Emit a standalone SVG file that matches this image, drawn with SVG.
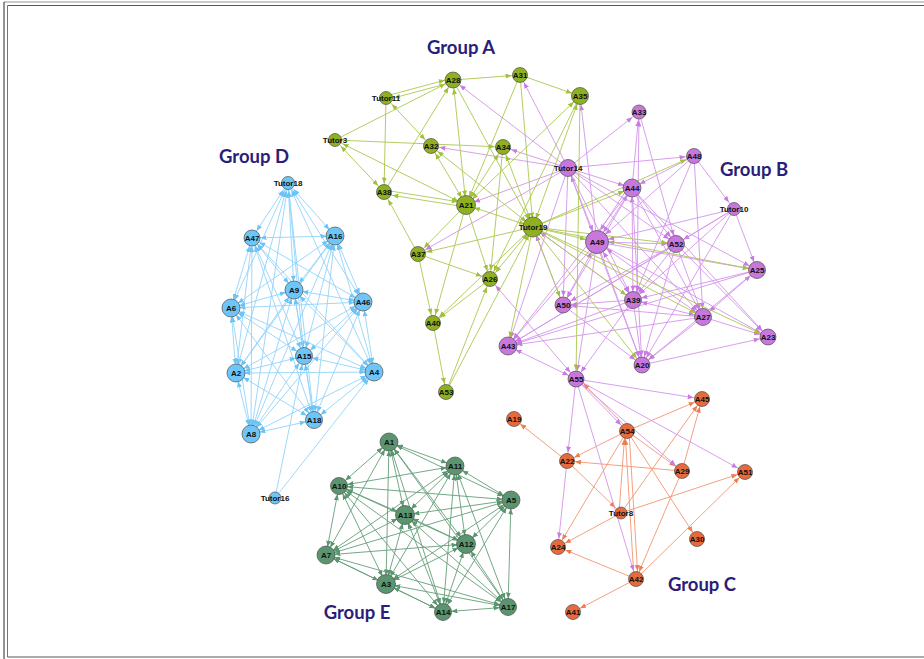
<svg xmlns="http://www.w3.org/2000/svg" width="924" height="659" viewBox="0 0 924 659">
<defs>
<marker id="mA" viewBox="0 0 6 5" markerWidth="6" markerHeight="5" refX="14.5" refY="2.5" orient="auto-start-reverse" markerUnits="userSpaceOnUse"><path d="M0,0L6,2.5L0,5z" fill="#a2c03e"/></marker>
<marker id="mAL" viewBox="0 0 6 5" markerWidth="6" markerHeight="5" refX="17.5" refY="2.5" orient="auto-start-reverse" markerUnits="userSpaceOnUse"><path d="M0,0L6,2.5L0,5z" fill="#a2c03e"/></marker>
<marker id="mB" viewBox="0 0 6 5" markerWidth="6" markerHeight="5" refX="14.5" refY="2.5" orient="auto-start-reverse" markerUnits="userSpaceOnUse"><path d="M0,0L6,2.5L0,5z" fill="#c97be3"/></marker>
<marker id="mBL" viewBox="0 0 6 5" markerWidth="6" markerHeight="5" refX="17.5" refY="2.5" orient="auto-start-reverse" markerUnits="userSpaceOnUse"><path d="M0,0L6,2.5L0,5z" fill="#c97be3"/></marker>
<marker id="mC" viewBox="0 0 6 5" markerWidth="6" markerHeight="5" refX="14" refY="2.5" orient="auto-start-reverse" markerUnits="userSpaceOnUse"><path d="M0,0L6,2.5L0,5z" fill="#ef7d50"/></marker>
<marker id="mD" viewBox="0 0 6 5" markerWidth="6" markerHeight="5" refX="14.5" refY="2.5" orient="auto-start-reverse" markerUnits="userSpaceOnUse"><path d="M0,0L6,2.5L0,5z" fill="#6cc3f5"/></marker>
<marker id="mE" viewBox="0 0 6 5" markerWidth="6" markerHeight="5" refX="14.5" refY="2.5" orient="auto-start-reverse" markerUnits="userSpaceOnUse"><path d="M0,0L6,2.5L0,5z" fill="#5a9670"/></marker>
</defs>
<style>
line{stroke-width:0.9;fill:none}
.eA{stroke:#abc74f}
.eB{stroke:#d494ea}
.eC{stroke:#f39570}
.eD{stroke:#92d4fb}
.eE{stroke:#639e77}
.eA.u{marker-end:url(#mA)}.eA.b{marker-start:url(#mA);marker-end:url(#mA)}
.eB.u{marker-end:url(#mB)}.eB.b{marker-start:url(#mB);marker-end:url(#mB)}
.eC.u{marker-end:url(#mC)}.eC.b{marker-start:url(#mC);marker-end:url(#mC)}
.eD.u{marker-end:url(#mD)}.eD.b{marker-start:url(#mD);marker-end:url(#mD)}
.eE.u{marker-end:url(#mE)}.eE.b{marker-start:url(#mE);marker-end:url(#mE)}
.nd circle{stroke:#4d4d4d;stroke-width:0.7}
.nA circle{fill:#8fb01f}
.nB circle{fill:#c878dd}
.nC circle{fill:#e76a3c}
.nD circle{fill:#6ec6f8}
.nE circle{fill:#5a956f}
.nd text{font-family:"Liberation Sans",Arial,sans-serif;font-weight:bold;font-size:8px;fill:#111;text-anchor:middle}
.title{font-family:Lato,"Open Sans",sans-serif;font-weight:bold;font-size:18.5px;fill:#2b1d78;text-anchor:middle}
.fr{fill:none}
</style>
<rect width="924" height="659" fill="#fff"/>
<g id="frame">
<line class="fr" x1="4" y1="2" x2="924" y2="2" stroke="#888" stroke-width="1.5"/>
<line class="fr" x1="4" y1="2" x2="4" y2="659" stroke="#111" stroke-width="1.5"/>
<line class="fr" x1="7.5" y1="5.5" x2="924" y2="5.5" stroke="#444" stroke-width="1.5"/>
<line class="fr" x1="7.5" y1="5.5" x2="7.5" y2="657" stroke="#666" stroke-width="1"/>
<line class="fr" x1="7.5" y1="657" x2="924" y2="657" stroke="#444" stroke-width="1.5"/>
</g>
<g id="connectors">
<!-- Group D -->
<line class="eD b" x1="288" y1="183" x2="252" y2="238"/>
<line class="eD b" x1="288" y1="183" x2="335" y2="236"/>
<line class="eD b" x1="288" y1="183" x2="294" y2="290"/>
<line class="eD b" x1="288" y1="183" x2="231" y2="308"/>
<line class="eD b" x1="288" y1="183" x2="363" y2="302"/>
<line class="eD b" x1="288" y1="183" x2="304" y2="356"/>
<line class="eD b" x1="288" y1="183" x2="236" y2="373"/>
<line class="eD b" x1="288" y1="183" x2="374" y2="372"/>
<line class="eD b" x1="288" y1="183" x2="314" y2="420"/>
<line class="eD b" x1="288" y1="183" x2="251" y2="434"/>
<line class="eD b" x1="252" y1="238" x2="335" y2="236"/>
<line class="eD b" x1="252" y1="238" x2="294" y2="290"/>
<line class="eD b" x1="252" y1="238" x2="231" y2="308"/>
<line class="eD b" x1="252" y1="238" x2="363" y2="302"/>
<line class="eD b" x1="252" y1="238" x2="304" y2="356"/>
<line class="eD b" x1="252" y1="238" x2="236" y2="373"/>
<line class="eD b" x1="252" y1="238" x2="374" y2="372"/>
<line class="eD b" x1="252" y1="238" x2="314" y2="420"/>
<line class="eD b" x1="252" y1="238" x2="251" y2="434"/>
<line class="eD b" x1="335" y1="236" x2="294" y2="290"/>
<line class="eD b" x1="335" y1="236" x2="231" y2="308"/>
<line class="eD b" x1="335" y1="236" x2="363" y2="302"/>
<line class="eD b" x1="335" y1="236" x2="304" y2="356"/>
<line class="eD b" x1="335" y1="236" x2="236" y2="373"/>
<line class="eD b" x1="335" y1="236" x2="374" y2="372"/>
<line class="eD b" x1="335" y1="236" x2="314" y2="420"/>
<line class="eD b" x1="335" y1="236" x2="251" y2="434"/>
<line class="eD b" x1="294" y1="290" x2="231" y2="308"/>
<line class="eD b" x1="294" y1="290" x2="363" y2="302"/>
<line class="eD b" x1="294" y1="290" x2="304" y2="356"/>
<line class="eD b" x1="294" y1="290" x2="236" y2="373"/>
<line class="eD b" x1="294" y1="290" x2="374" y2="372"/>
<line class="eD b" x1="294" y1="290" x2="314" y2="420"/>
<line class="eD b" x1="294" y1="290" x2="251" y2="434"/>
<line class="eD b" x1="231" y1="308" x2="363" y2="302"/>
<line class="eD b" x1="231" y1="308" x2="304" y2="356"/>
<line class="eD b" x1="231" y1="308" x2="236" y2="373"/>
<line class="eD b" x1="231" y1="308" x2="374" y2="372"/>
<line class="eD b" x1="231" y1="308" x2="314" y2="420"/>
<line class="eD b" x1="231" y1="308" x2="251" y2="434"/>
<line class="eD b" x1="363" y1="302" x2="304" y2="356"/>
<line class="eD b" x1="363" y1="302" x2="236" y2="373"/>
<line class="eD b" x1="363" y1="302" x2="374" y2="372"/>
<line class="eD b" x1="363" y1="302" x2="314" y2="420"/>
<line class="eD b" x1="363" y1="302" x2="251" y2="434"/>
<line class="eD b" x1="304" y1="356" x2="236" y2="373"/>
<line class="eD b" x1="304" y1="356" x2="374" y2="372"/>
<line class="eD b" x1="304" y1="356" x2="314" y2="420"/>
<line class="eD b" x1="304" y1="356" x2="251" y2="434"/>
<line class="eD b" x1="236" y1="373" x2="374" y2="372"/>
<line class="eD b" x1="236" y1="373" x2="314" y2="420"/>
<line class="eD b" x1="236" y1="373" x2="251" y2="434"/>
<line class="eD b" x1="374" y1="372" x2="314" y2="420"/>
<line class="eD b" x1="374" y1="372" x2="251" y2="434"/>
<line class="eD b" x1="314" y1="420" x2="251" y2="434"/>
<line class="eD u" x1="275" y1="498" x2="304" y2="356"/>
<line class="eD u" x1="275" y1="498" x2="374" y2="372"/>
<!-- Group E -->
<line class="eE b" x1="389" y1="442" x2="455" y2="466"/>
<line class="eE b" x1="389" y1="442" x2="339" y2="486"/>
<line class="eE b" x1="389" y1="442" x2="511" y2="500"/>
<line class="eE b" x1="389" y1="442" x2="405" y2="515"/>
<line class="eE b" x1="389" y1="442" x2="466" y2="544"/>
<line class="eE b" x1="389" y1="442" x2="326" y2="555"/>
<line class="eE b" x1="389" y1="442" x2="386" y2="584"/>
<line class="eE b" x1="389" y1="442" x2="443" y2="612"/>
<line class="eE b" x1="389" y1="442" x2="508" y2="607"/>
<line class="eE b" x1="455" y1="466" x2="339" y2="486"/>
<line class="eE b" x1="455" y1="466" x2="511" y2="500"/>
<line class="eE b" x1="455" y1="466" x2="405" y2="515"/>
<line class="eE b" x1="455" y1="466" x2="466" y2="544"/>
<line class="eE b" x1="455" y1="466" x2="326" y2="555"/>
<line class="eE b" x1="455" y1="466" x2="386" y2="584"/>
<line class="eE b" x1="455" y1="466" x2="443" y2="612"/>
<line class="eE b" x1="455" y1="466" x2="508" y2="607"/>
<line class="eE b" x1="339" y1="486" x2="511" y2="500"/>
<line class="eE b" x1="339" y1="486" x2="405" y2="515"/>
<line class="eE b" x1="339" y1="486" x2="466" y2="544"/>
<line class="eE b" x1="339" y1="486" x2="326" y2="555"/>
<line class="eE b" x1="339" y1="486" x2="386" y2="584"/>
<line class="eE b" x1="339" y1="486" x2="443" y2="612"/>
<line class="eE b" x1="339" y1="486" x2="508" y2="607"/>
<line class="eE b" x1="511" y1="500" x2="405" y2="515"/>
<line class="eE b" x1="511" y1="500" x2="466" y2="544"/>
<line class="eE b" x1="511" y1="500" x2="326" y2="555"/>
<line class="eE b" x1="511" y1="500" x2="386" y2="584"/>
<line class="eE b" x1="511" y1="500" x2="443" y2="612"/>
<line class="eE b" x1="511" y1="500" x2="508" y2="607"/>
<line class="eE b" x1="405" y1="515" x2="466" y2="544"/>
<line class="eE b" x1="405" y1="515" x2="326" y2="555"/>
<line class="eE b" x1="405" y1="515" x2="386" y2="584"/>
<line class="eE b" x1="405" y1="515" x2="443" y2="612"/>
<line class="eE b" x1="405" y1="515" x2="508" y2="607"/>
<line class="eE b" x1="466" y1="544" x2="326" y2="555"/>
<line class="eE b" x1="466" y1="544" x2="386" y2="584"/>
<line class="eE b" x1="466" y1="544" x2="443" y2="612"/>
<line class="eE b" x1="466" y1="544" x2="508" y2="607"/>
<line class="eE b" x1="326" y1="555" x2="386" y2="584"/>
<line class="eE b" x1="326" y1="555" x2="443" y2="612"/>
<line class="eE b" x1="326" y1="555" x2="508" y2="607"/>
<line class="eE b" x1="386" y1="584" x2="443" y2="612"/>
<line class="eE b" x1="386" y1="584" x2="508" y2="607"/>
<line class="eE b" x1="443" y1="612" x2="508" y2="607"/>
<!-- Group C -->
<line class="eC u" x1="567" y1="461" x2="514" y2="419"/>
<line class="eC u" x1="627" y1="431" x2="567" y2="461"/>
<line class="eC u" x1="627" y1="431" x2="558" y2="547"/>
<line class="eC u" x1="627" y1="431" x2="697" y2="539"/>
<line class="eC u" x1="629" y1="431" x2="638" y2="579"/>
<line class="eC u" x1="634" y1="579" x2="625" y2="431"/>
<line class="eC u" x1="627" y1="431" x2="702" y2="399"/>
<line class="eC u" x1="627" y1="431" x2="682" y2="471"/>
<line class="eC u" x1="629" y1="430" x2="578" y2="378"/>
<line class="eC u" x1="682" y1="471" x2="567" y2="461"/>
<line class="eC u" x1="682" y1="471" x2="702" y2="399"/>
<line class="eC u" x1="682" y1="471" x2="636" y2="579"/>
<line class="eC u" x1="621" y1="513" x2="702" y2="399"/>
<line class="eC u" x1="621" y1="513" x2="745" y2="472"/>
<line class="eC u" x1="621" y1="513" x2="558" y2="547"/>
<line class="eC u" x1="619" y1="513" x2="625" y2="431"/>
<line class="eC u" x1="567" y1="461" x2="621" y2="513"/>
<line class="eC u" x1="636" y1="579" x2="558" y2="547"/>
<line class="eC u" x1="636" y1="579" x2="573" y2="612"/>
<line class="eC u" x1="636" y1="579" x2="745" y2="472"/>
<!-- Group B -->
<line class="eB u" x1="568" y1="168" x2="639" y2="112"/>
<line class="eB u" x1="568" y1="168" x2="694" y2="156"/>
<line class="eB u" x1="568" y1="168" x2="632" y2="188"/>
<line class="eB b" x1="568" y1="168" x2="597" y2="242" style="marker-end:url(#mBL)"/>
<line class="eB u" x1="568" y1="168" x2="676" y2="244"/>
<line class="eB u" x1="568" y1="168" x2="633" y2="300"/>
<line class="eB u" x1="568" y1="168" x2="563" y2="305"/>
<line class="eB u" x1="568" y1="168" x2="508" y2="346"/>
<line class="eB u" x1="568" y1="168" x2="757" y2="270"/>
<line class="eB u" x1="568" y1="168" x2="703" y2="317"/>
<line class="eB u" x1="568" y1="168" x2="642" y2="365"/>
<line class="eB u" x1="632" y1="188" x2="639" y2="112"/>
<line class="eB b" x1="632" y1="188" x2="597" y2="242" style="marker-end:url(#mBL)"/>
<line class="eB u" x1="629" y1="186" x2="594" y2="240" style="marker-end:url(#mBL)"/>
<line class="eB u" x1="632" y1="188" x2="676" y2="244"/>
<line class="eB u" x1="632" y1="188" x2="563" y2="305"/>
<line class="eB u" x1="632" y1="188" x2="508" y2="346"/>
<line class="eB b" x1="632" y1="188" x2="633" y2="300"/>
<line class="eB u" x1="632" y1="188" x2="642" y2="365"/>
<line class="eB u" x1="632" y1="188" x2="703" y2="317"/>
<line class="eB u" x1="632" y1="188" x2="768" y2="337"/>
<line class="eB u" x1="694" y1="156" x2="632" y2="188"/>
<line class="eB u" x1="694" y1="156" x2="734" y2="209"/>
<line class="eB u" x1="694" y1="156" x2="597" y2="242" style="marker-end:url(#mBL)"/>
<line class="eB u" x1="694" y1="156" x2="633" y2="300"/>
<line class="eB u" x1="694" y1="156" x2="703" y2="317"/>
<line class="eB u" x1="734" y1="209" x2="597" y2="242" style="marker-end:url(#mBL)"/>
<line class="eB u" x1="734" y1="209" x2="676" y2="244"/>
<line class="eB u" x1="734" y1="209" x2="633" y2="300"/>
<line class="eB u" x1="734" y1="209" x2="508" y2="346"/>
<line class="eB u" x1="734" y1="209" x2="642" y2="365"/>
<line class="eB u" x1="734" y1="209" x2="757" y2="270"/>
<line class="eB b" x1="637" y1="300" x2="639" y2="112"/>
<line class="eB u" x1="639" y1="112" x2="676" y2="244"/>
<line class="eB b" x1="676" y1="244" x2="597" y2="242" style="marker-end:url(#mBL)"/>
<line class="eB u" x1="597" y1="242" x2="757" y2="270"/>
<line class="eB b" x1="633" y1="300" x2="597" y2="242" style="marker-end:url(#mBL)"/>
<line class="eB b" x1="563" y1="305" x2="597" y2="242" style="marker-end:url(#mBL)"/>
<line class="eB u" x1="597" y1="242" x2="508" y2="346"/>
<line class="eB u" x1="597" y1="242" x2="642" y2="365"/>
<line class="eB b" x1="703" y1="317" x2="597" y2="242" style="marker-end:url(#mBL)"/>
<line class="eB u" x1="597" y1="242" x2="768" y2="337"/>
<line class="eB u" x1="676" y1="244" x2="633" y2="300"/>
<line class="eB u" x1="676" y1="244" x2="703" y2="317"/>
<line class="eB u" x1="676" y1="244" x2="563" y2="305"/>
<line class="eB u" x1="676" y1="244" x2="508" y2="346"/>
<line class="eB u" x1="676" y1="244" x2="642" y2="365"/>
<line class="eB u" x1="676" y1="244" x2="768" y2="337"/>
<line class="eB u" x1="757" y1="270" x2="633" y2="300"/>
<line class="eB b" x1="757" y1="270" x2="703" y2="317"/>
<line class="eB u" x1="757" y1="270" x2="642" y2="365"/>
<line class="eB u" x1="757" y1="270" x2="508" y2="346"/>
<line class="eB b" x1="703" y1="317" x2="633" y2="300"/>
<line class="eB u" x1="703" y1="317" x2="563" y2="305"/>
<line class="eB u" x1="703" y1="317" x2="508" y2="346"/>
<line class="eB u" x1="703" y1="317" x2="642" y2="365"/>
<line class="eB u" x1="703" y1="317" x2="768" y2="337"/>
<line class="eB u" x1="633" y1="300" x2="563" y2="305"/>
<line class="eB u" x1="633" y1="300" x2="642" y2="365"/>
<line class="eB u" x1="633" y1="300" x2="508" y2="346"/>
<line class="eB u" x1="633" y1="300" x2="576" y2="379"/>
<line class="eB u" x1="642" y1="365" x2="768" y2="337"/>
<line class="eB u" x1="563" y1="305" x2="642" y2="365"/>
<line class="eB b" x1="508" y1="346" x2="576" y2="379"/>
<line class="eB u" x1="597" y1="242" x2="576" y2="379"/>
<line class="eB u" x1="576" y1="379" x2="702" y2="399"/>
<line class="eB u" x1="576" y1="379" x2="627" y2="431"/>
<line class="eB u" x1="576" y1="379" x2="682" y2="471"/>
<line class="eB u" x1="576" y1="379" x2="745" y2="472"/>
<line class="eB u" x1="576" y1="379" x2="567" y2="461"/>
<line class="eB u" x1="576" y1="379" x2="636" y2="579"/>
<line class="eB u" x1="567" y1="461" x2="558" y2="547"/>
<!-- Purple into group A -->
<line class="eB u" x1="568" y1="168" x2="431" y2="146"/>
<line class="eB u" x1="568" y1="168" x2="503" y2="147"/>
<line class="eB u" x1="568" y1="168" x2="453" y2="80"/>
<line class="eB u" x1="568" y1="168" x2="520" y2="75"/>
<line class="eB u" x1="568" y1="168" x2="466" y2="205"/>
<line class="eB u" x1="568" y1="168" x2="418" y2="254"/>
<line class="eB b" x1="490" y1="279" x2="576" y2="379"/>
<line class="eB u" x1="563" y1="305" x2="533" y2="227"/>
<line class="eB u" x1="633" y1="300" x2="533" y2="227"/>
<line class="eB u" x1="597" y1="242" x2="580" y2="96"/>
<!-- Group A -->
<line class="eA u" x1="386" y1="96" x2="453" y2="78"/>
<line class="eA u" x1="453" y1="82" x2="386" y2="100"/>
<line class="eA u" x1="453" y1="80" x2="520" y2="75"/>
<line class="eA u" x1="520" y1="75" x2="580" y2="96"/>
<line class="eA u" x1="335" y1="140" x2="453" y2="80"/>
<line class="eA u" x1="335" y1="140" x2="503" y2="147"/>
<line class="eA b" x1="335" y1="140" x2="384" y2="192"/>
<line class="eA b" x1="335" y1="140" x2="466" y2="205"/>
<line class="eA u" x1="386" y1="98" x2="384" y2="192"/>
<line class="eA b" x1="386" y1="98" x2="431" y2="146"/>
<line class="eA u" x1="384" y1="192" x2="453" y2="80"/>
<line class="eA u" x1="384" y1="190" x2="466" y2="203"/>
<line class="eA u" x1="466" y1="207" x2="384" y2="194"/>
<line class="eA b" x1="431" y1="146" x2="466" y2="205"/>
<line class="eA b" x1="453" y1="80" x2="466" y2="205"/>
<line class="eA u" x1="453" y1="80" x2="533" y2="227"/>
<line class="eA u" x1="520" y1="75" x2="533" y2="227"/>
<line class="eA u" x1="520" y1="75" x2="466" y2="205"/>
<line class="eA b" x1="503" y1="147" x2="466" y2="205"/>
<line class="eA b" x1="503" y1="147" x2="533" y2="227"/>
<line class="eA b" x1="580" y1="96" x2="466" y2="205"/>
<line class="eA b" x1="580" y1="96" x2="533" y2="227"/>
<line class="eA b" x1="431" y1="146" x2="533" y2="227"/>
<line class="eA b" x1="466" y1="205" x2="533" y2="227"/>
<line class="eA u" x1="466" y1="205" x2="490" y2="279"/>
<line class="eA u" x1="466" y1="205" x2="433" y2="323"/>
<line class="eA u" x1="466" y1="205" x2="418" y2="254"/>
<line class="eA u" x1="533" y1="227" x2="418" y2="254"/>
<line class="eA b" x1="533" y1="227" x2="490" y2="279"/>
<line class="eA u" x1="533" y1="227" x2="433" y2="323"/>
<line class="eA u" x1="446" y1="392" x2="533" y2="227"/>
<line class="eA u" x1="446" y1="392" x2="490" y2="279"/>
<line class="eA u" x1="418" y1="254" x2="490" y2="279"/>
<line class="eA u" x1="418" y1="254" x2="433" y2="323"/>
<line class="eA u" x1="418" y1="254" x2="384" y2="192"/>
<line class="eA u" x1="433" y1="323" x2="446" y2="392"/>
<line class="eA u" x1="490" y1="279" x2="433" y2="323"/>
<line class="eA u" x1="580" y1="96" x2="576" y2="379"/>
<line class="eA u" x1="580" y1="96" x2="490" y2="279"/>
<line class="eA u" x1="503" y1="147" x2="490" y2="279"/>
<line class="eA u" x1="533" y1="227" x2="508" y2="346"/>
<line class="eA u" x1="533" y1="227" x2="563" y2="305"/>
<line class="eA u" x1="533" y1="227" x2="642" y2="365"/>
<line class="eA u" x1="533" y1="227" x2="768" y2="337"/>
<line class="eA u" x1="533" y1="227" x2="703" y2="317"/>
<line class="eA u" x1="533" y1="227" x2="676" y2="244"/>
<line class="eA u" x1="533" y1="227" x2="597" y2="242" style="marker-end:url(#mAL)"/>
<line class="eA u" x1="533" y1="227" x2="633" y2="300"/>
<line class="eA u" x1="533" y1="227" x2="632" y2="188"/>
<line class="eA u" x1="533" y1="227" x2="694" y2="156"/>
<line class="eA u" x1="533" y1="227" x2="757" y2="270"/>
</g>
<g id="labels">
<text class="title" x="461" y="54">Group A</text>
<text class="title" x="754" y="176">Group B</text>
<text class="title" x="702" y="591">Group C</text>
<text class="title" x="254" y="163">Group D</text>
<text class="title" x="357" y="619">Group E</text>
</g>
<g id="nodesA" class="nd nA">
<g id="A28"><circle cx="453" cy="80" r="8"/><text x="453" y="82.8">A28</text></g>
<g id="A31"><circle cx="520" cy="75" r="7.5"/><text x="520" y="77.8">A31</text></g>
<g id="A35"><circle cx="580" cy="96" r="8.5"/><text x="580" y="98.8">A35</text></g>
<g id="Tutor11"><circle cx="386" cy="98" r="6.5"/><text x="386" y="100.8">Tutor11</text></g>
<g id="Tutor3"><circle cx="335" cy="140" r="6.5"/><text x="335" y="142.8">Tutor3</text></g>
<g id="A32"><circle cx="431" cy="146" r="7.5"/><text x="431" y="148.8">A32</text></g>
<g id="A34"><circle cx="503" cy="147" r="7.5"/><text x="503" y="149.8">A34</text></g>
<g id="A38"><circle cx="384" cy="192" r="7.5"/><text x="384" y="194.8">A38</text></g>
<g id="A21"><circle cx="466" cy="205" r="9.5"/><text x="466" y="207.8">A21</text></g>
<g id="Tutor19"><circle cx="533" cy="227" r="10"/><text x="533" y="229.8">Tutor19</text></g>
<g id="A37"><circle cx="418" cy="254" r="7.5"/><text x="418" y="256.8">A37</text></g>
<g id="A26"><circle cx="490" cy="279" r="7.5"/><text x="490" y="281.8">A26</text></g>
<g id="A40"><circle cx="433" cy="323" r="7.5"/><text x="433" y="325.8">A40</text></g>
<g id="A53"><circle cx="446" cy="392" r="7.5"/><text x="446" y="394.8">A53</text></g>
</g>
<g id="nodesB" class="nd nB">
<g id="A33"><circle cx="639" cy="112" r="7"/><text x="639" y="114.8">A33</text></g>
<g id="A48"><circle cx="694" cy="156" r="7.5"/><text x="694" y="158.8">A48</text></g>
<g id="Tutor14"><circle cx="568" cy="168" r="8.5"/><text x="568" y="170.8">Tutor14</text></g>
<g id="A44"><circle cx="632" cy="188" r="9"/><text x="632" y="190.8">A44</text></g>
<g id="Tutor10"><circle cx="734" cy="209" r="6.5"/><text x="734" y="211.8">Tutor10</text></g>
<g id="A49"><circle cx="597" cy="242" r="11.5"/><text x="597" y="244.8">A49</text></g>
<g id="A52"><circle cx="676" cy="244" r="8.5"/><text x="676" y="246.8">A52</text></g>
<g id="A25"><circle cx="757" cy="270" r="8.5"/><text x="757" y="272.8">A25</text></g>
<g id="A39"><circle cx="633" cy="300" r="8.5"/><text x="633" y="302.8">A39</text></g>
<g id="A50"><circle cx="563" cy="305" r="8"/><text x="563" y="307.8">A50</text></g>
<g id="A27"><circle cx="703" cy="317" r="8.5"/><text x="703" y="319.8">A27</text></g>
<g id="A23"><circle cx="768" cy="337" r="8"/><text x="768" y="339.8">A23</text></g>
<g id="A43"><circle cx="508" cy="346" r="9"/><text x="508" y="348.8">A43</text></g>
<g id="A20"><circle cx="642" cy="365" r="8"/><text x="642" y="367.8">A20</text></g>
<g id="A55"><circle cx="576" cy="379" r="8"/><text x="576" y="381.8">A55</text></g>
</g>
<g id="nodesC" class="nd nC">
<g id="A45"><circle cx="702" cy="399" r="7.5"/><text x="702" y="401.8">A45</text></g>
<g id="A19"><circle cx="514" cy="419" r="7.5"/><text x="514" y="421.8">A19</text></g>
<g id="A54"><circle cx="627" cy="431" r="7.5"/><text x="627" y="433.8">A54</text></g>
<g id="A22"><circle cx="567" cy="461" r="7.5"/><text x="567" y="463.8">A22</text></g>
<g id="A29"><circle cx="682" cy="471" r="7.5"/><text x="682" y="473.8">A29</text></g>
<g id="A51"><circle cx="745" cy="472" r="7.5"/><text x="745" y="474.8">A51</text></g>
<g id="Tutor8"><circle cx="621" cy="513" r="6"/><text x="621" y="515.8">Tutor8</text></g>
<g id="A24"><circle cx="558" cy="547" r="7.5"/><text x="558" y="549.8">A24</text></g>
<g id="A30"><circle cx="697" cy="539" r="7.5"/><text x="697" y="541.8">A30</text></g>
<g id="A42"><circle cx="636" cy="579" r="7.5"/><text x="636" y="581.8">A42</text></g>
<g id="A41"><circle cx="573" cy="612" r="7.5"/><text x="573" y="614.8">A41</text></g>
</g>
<g id="nodesD" class="nd nD">
<g id="Tutor18"><circle cx="288" cy="183" r="6.5"/><text x="288" y="185.8">Tutor18</text></g>
<g id="A47"><circle cx="252" cy="238" r="8"/><text x="252" y="240.8">A47</text></g>
<g id="A16"><circle cx="335" cy="236" r="9"/><text x="335" y="238.8">A16</text></g>
<g id="A9"><circle cx="294" cy="290" r="9"/><text x="294" y="292.8">A9</text></g>
<g id="A6"><circle cx="231" cy="308" r="9"/><text x="231" y="310.8">A6</text></g>
<g id="A46"><circle cx="363" cy="302" r="9"/><text x="363" y="304.8">A46</text></g>
<g id="A15"><circle cx="304" cy="356" r="8.5"/><text x="304" y="358.8">A15</text></g>
<g id="A2"><circle cx="236" cy="373" r="9"/><text x="236" y="375.8">A2</text></g>
<g id="A4"><circle cx="374" cy="372" r="9"/><text x="374" y="374.8">A4</text></g>
<g id="A18"><circle cx="314" cy="420" r="8.5"/><text x="314" y="422.8">A18</text></g>
<g id="A8"><circle cx="251" cy="434" r="9"/><text x="251" y="436.8">A8</text></g>
<g id="Tutor16"><circle cx="275" cy="498" r="6"/><text x="275" y="500.8">Tutor16</text></g>
</g>
<g id="nodesE" class="nd nE">
<g id="A1"><circle cx="389" cy="442" r="9"/><text x="389" y="444.8">A1</text></g>
<g id="A11"><circle cx="455" cy="466" r="9"/><text x="455" y="468.8">A11</text></g>
<g id="A10"><circle cx="339" cy="486" r="8.5"/><text x="339" y="488.8">A10</text></g>
<g id="A5"><circle cx="511" cy="500" r="9"/><text x="511" y="502.8">A5</text></g>
<g id="A13"><circle cx="405" cy="515" r="9.5"/><text x="405" y="517.8">A13</text></g>
<g id="A12"><circle cx="466" cy="544" r="9.5"/><text x="466" y="546.8">A12</text></g>
<g id="A7"><circle cx="326" cy="555" r="9"/><text x="326" y="557.8">A7</text></g>
<g id="A3"><circle cx="386" cy="584" r="9.5"/><text x="386" y="586.8">A3</text></g>
<g id="A14"><circle cx="443" cy="612" r="8.5"/><text x="443" y="614.8">A14</text></g>
<g id="A17"><circle cx="508" cy="607" r="8.5"/><text x="508" y="609.8">A17</text></g>
</g>
</svg>
